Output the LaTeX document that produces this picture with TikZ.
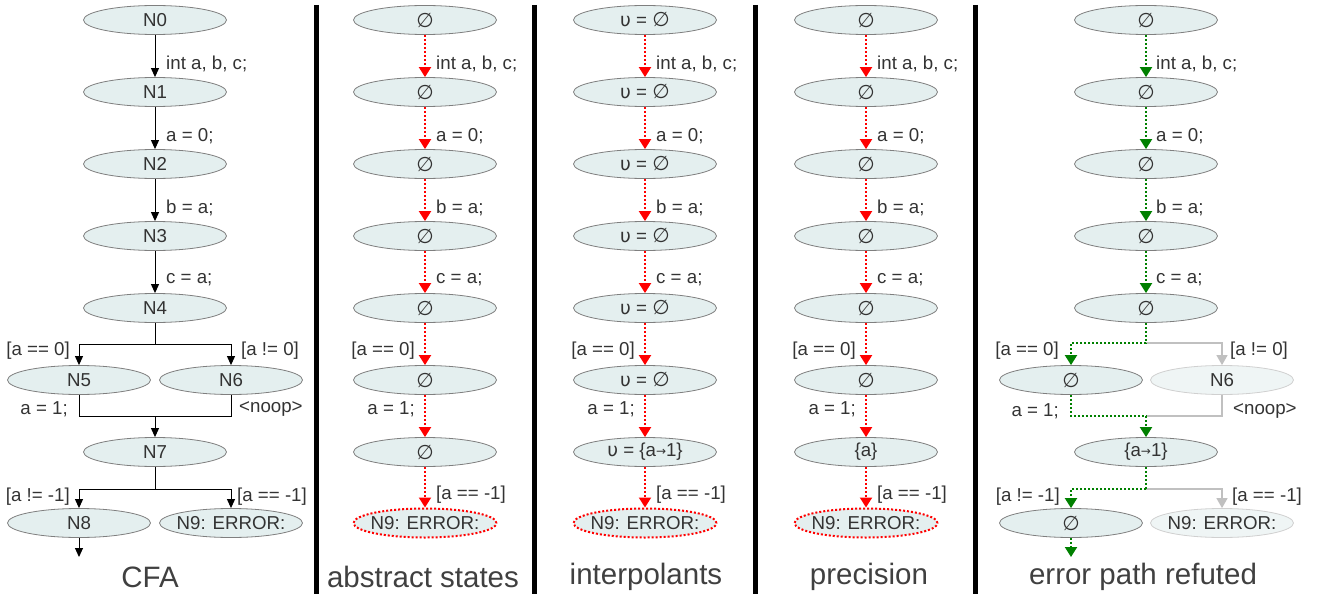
\documentclass[tikz,border=0pt]{standalone}
\usepackage{fontspec}
\setmainfont{Liberation Sans}
\newfontfamily\symf{DejaVu Sans}
\usetikzlibrary{arrows.meta,shapes.geometric}
\definecolor{nfill}{HTML}{E4EFEF}
\definecolor{nline}{HTML}{7F7F7F}
\definecolor{txt}{HTML}{333333}
\definecolor{ttl}{HTML}{404040}
\definecolor{grn}{HTML}{008000}
\definecolor{fadefill}{HTML}{EFF5F5}
\definecolor{fadeline}{HTML}{D0D0D0}
\definecolor{fadeedge}{HTML}{C0C0C0}
\newcommand{\emp}{{\symf\fontsize{20}{20}\selectfont ∅}}
\newcommand{\ups}{{\symf υ}}
\newcommand{\too}{\raisebox{1.5pt}{\symf\fontsize{12}{12}\selectfont →}}
\begin{document}
\begin{tikzpicture}[x=1pt,y=-1pt,
 st/.style={ellipse, draw=nline, line width=0.8pt, fill=nfill, minimum width=143pt, minimum height=29pt, inner xsep=-9pt, inner ysep=0pt, text=txt, font=\fontsize{18.7}{20}\selectfont},
 errst/.style={st, draw=red, line width=2pt, dash pattern=on 2pt off 2pt},
 fadest/.style={st, draw=fadeline, fill=fadefill},
 lbl/.style={text=txt, font=\fontsize{18.7}{20}\selectfont, inner sep=0pt},
 ttlst/.style={text=ttl, font=\fontsize{29.5}{31}\selectfont, inner sep=0pt},
 cfae/.style={black, line width=1pt, -{Triangle[width=8pt,length=9pt]}},
 cfal/.style={black, line width=1pt},
 rde/.style={red, line width=2pt, dash pattern=on 2pt off 2pt, -{Triangle[width=12pt,length=10pt]}},
 gre/.style={grn, line width=2pt, dash pattern=on 2pt off 2pt, -{Triangle[width=12pt,length=10pt]}},
 grl/.style={grn, line width=2pt, dash pattern=on 2pt off 2pt},
 gye/.style={fadeedge, line width=1.5pt, -{Triangle[width=11pt,length=10pt]}},
 gyl/.style={fadeedge, line width=1.5pt},
 sep/.style={black, line width=5pt}
]
\useasboundingbox (0,0) rectangle (1323,594);

% separators
\draw[sep] (316.5,5) -- (316.5,594);
\draw[sep] (534.5,5) -- (534.5,594);
\draw[sep] (755.5,5) -- (755.5,594);
\draw[sep] (975.5,5) -- (975.5,594);

% ---------- CFA ----------
\node[st] (c0) at (155,20) {N0};
\node[st] (c1) at (155,92) {N1};
\node[st] (c2) at (155,164) {N2};
\node[st] (c3) at (155,236) {N3};
\node[st] (c4) at (155,308) {N4};
\node[st] (c5) at (79,380) {N5};
\node[st] (c6) at (231,380) {N6};
\node[st] (c7) at (155,452) {N7};
\node[st] (c8) at (79,523) {N8};
\node[st] (c9) at (231,523) {N9: ERROR:};
\draw[cfae] (c0.south) -- (c1.north);
\draw[cfae] (c1.south) -- (c2.north);
\draw[cfae] (c2.south) -- (c3.north);
\draw[cfae] (c3.south) -- (c4.north);
\coordinate (cj1) at (155,344);
\draw[cfal] (c4.south) -- (cj1);
\draw[cfae] (cj1) -| (c5.north);
\draw[cfae] (cj1) -| (c6.north);
\coordinate (cm) at (155,416);
\draw[cfal] (c5.south) |- (cm);
\draw[cfal] (c6.south) |- (cm);
\draw[cfae] (cm) -- (c7.north);
\coordinate (cj2) at (155,489);
\draw[cfal] (c7.south) -- (cj2);
\draw[cfae] (cj2) -| (c8.north);
\draw[cfae] (cj2) -| (c9.north);
\coordinate (cx) at (79,557);
\draw[cfae] (c8.south) -- (cx);
\node[lbl, anchor=west] (cl0) at (166,64) {int a, b, c;};
\node[lbl, anchor=west] (cl1) at (166,136) {a = 0;};
\node[lbl, anchor=west] (cl2) at (166,208) {b = a;};
\node[lbl, anchor=west] (cl3) at (166,280) {c = a;};
\node[lbl, anchor=east] (cl4) at (70,351) {[a == 0]};
\node[lbl, anchor=west] (cl5) at (241,351) {[a != 0]};
\node[lbl, anchor=east] (cl6) at (68,409) {a = 1;};
\node[lbl, anchor=west] (cl7) at (239,409) {<noop>};
\node[lbl, anchor=east] (cl8) at (70,497) {[a != -1]};
\node[lbl, anchor=west] (cl9) at (237,497) {[a == -1]};
\node[ttlst] (t1) at (150,577) {CFA};

% ---------- abstract states ----------
\node[st] (a0) at (425,20) {\emp};
\node[st] (a1) at (425,92) {\emp};
\node[st] (a2) at (425,164) {\emp};
\node[st] (a3) at (425,236) {\emp};
\node[st] (a4) at (425,308) {\emp};
\node[st] (a5) at (425,380) {\emp};
\node[st] (a6) at (425,452) {\emp};
\node[errst] (a7) at (425,523) {N9: ERROR:};
\foreach \i/\j in {0/1,1/2,2/3,3/4,4/5,5/6,6/7}{\draw[rde] (a\i.south) -- (a\j.north);}
\node[lbl, anchor=west] (al0) at (436,64) {int a, b, c;};
\node[lbl, anchor=west] (al1) at (436,136) {a = 0;};
\node[lbl, anchor=west] (al2) at (436,208) {b = a;};
\node[lbl, anchor=west] (al3) at (436,280) {c = a;};
\node[lbl, anchor=east] (al4) at (415,351) {[a == 0]};
\node[lbl, anchor=east] (al5) at (415,409) {a = 1;};
\node[lbl, anchor=west] (al6) at (436,495) {[a == -1]};
\node[ttlst] (t2) at (423,577) {abstract states};

% ---------- interpolants ----------
\node[st] (i0) at (645,20) {\ups{} = \emp};
\node[st] (i1) at (645,92) {\ups{} = \emp};
\node[st] (i2) at (645,164) {\ups{} = \emp};
\node[st] (i3) at (645,236) {\ups{} = \emp};
\node[st] (i4) at (645,308) {\ups{} = \emp};
\node[st] (i5) at (645,380) {\ups{} = \emp};
\node[st] (i6) at (645,452) {\ups{} = \{a\too 1\}};
\node[errst] (i7) at (645,523) {N9: ERROR:};
\foreach \i/\j in {0/1,1/2,2/3,3/4,4/5,5/6,6/7}{\draw[rde] (i\i.south) -- (i\j.north);}
\node[lbl, anchor=west] (il0) at (656,64) {int a, b, c;};
\node[lbl, anchor=west] (il1) at (656,136) {a = 0;};
\node[lbl, anchor=west] (il2) at (656,208) {b = a;};
\node[lbl, anchor=west] (il3) at (656,280) {c = a;};
\node[lbl, anchor=east] (il4) at (635,351) {[a == 0]};
\node[lbl, anchor=east] (il5) at (635,409) {a = 1;};
\node[lbl, anchor=west] (il6) at (656,495) {[a == -1]};
\node[ttlst] (t3) at (646,577) {interpolants};

% ---------- precision ----------
\node[st] (p0) at (866,20) {\emp};
\node[st] (p1) at (866,92) {\emp};
\node[st] (p2) at (866,164) {\emp};
\node[st] (p3) at (866,236) {\emp};
\node[st] (p4) at (866,308) {\emp};
\node[st] (p5) at (866,380) {\emp};
\node[st] (p6) at (866,452) {\{a\}};
\node[errst] (p7) at (866,523) {N9: ERROR:};
\foreach \i/\j in {0/1,1/2,2/3,3/4,4/5,5/6,6/7}{\draw[rde] (p\i.south) -- (p\j.north);}
\node[lbl, anchor=west] (pl0) at (877,64) {int a, b, c;};
\node[lbl, anchor=west] (pl1) at (877,136) {a = 0;};
\node[lbl, anchor=west] (pl2) at (877,208) {b = a;};
\node[lbl, anchor=west] (pl3) at (877,280) {c = a;};
\node[lbl, anchor=east] (pl4) at (856,351) {[a == 0]};
\node[lbl, anchor=east] (pl5) at (856,409) {a = 1;};
\node[lbl, anchor=west] (pl6) at (877,495) {[a == -1]};
\node[ttlst] (t4) at (869,577) {precision};

% ---------- error path refuted ----------
\node[st] (e0) at (1146,20) {\emp};
\node[st] (e1) at (1146,92) {\emp};
\node[st] (e2) at (1146,164) {\emp};
\node[st] (e3) at (1146,236) {\emp};
\node[st] (e4) at (1146,308) {\emp};
\node[st] (e5) at (1071,380) {\emp};
\node[fadest] (e6) at (1222,380) {N6};
\node[st] (e7) at (1146,452) {\{a\too 1\}};
\node[st] (e8) at (1071,523) {\emp};
\node[fadest] (e9) at (1222,523) {N9: ERROR:};
\foreach \i/\j in {0/1,1/2,2/3,3/4}{\draw[gre] (e\i.south) -- (e\j.north);}
\coordinate (ej1) at (1146,343);
\draw[gye] (ej1) -| (e6.north);
\draw[grl] (e4.south) -- (ej1);
\draw[gre] (ej1) -| (e5.north);
\coordinate (em) at (1146,416);
\draw[gyl] (e6.south) |- (em);
\draw[grl] (e5.south) |- (em);
\draw[gre] (em) -- (e7.north);
\coordinate (ej2) at (1146,489);
\draw[gye] (ej2) -| (e9.north);
\draw[grl] (e7.south) -- (ej2);
\draw[gre] (ej2) -| (e8.north);
\coordinate (ex) at (1071,557);
\draw[gre] (e8.south) -- (ex);
\node[lbl, anchor=west] (el0) at (1156,64) {int a, b, c;};
\node[lbl, anchor=west] (el1) at (1156,136) {a = 0;};
\node[lbl, anchor=west] (el2) at (1156,208) {b = a;};
\node[lbl, anchor=west] (el3) at (1156,280) {c = a;};
\node[lbl, anchor=east] (el4) at (1059,351) {[a == 0]};
\node[lbl, anchor=west] (el5) at (1230,351) {[a != 0]};
\node[lbl, anchor=east] (el6) at (1059,411) {a = 1;};
\node[lbl, anchor=west] (el7) at (1233,411) {<noop>};
\node[lbl, anchor=east] (el8) at (1060,497) {[a != -1]};
\node[lbl, anchor=west] (el9) at (1232,497) {[a == -1]};
\node[ttlst] (t5) at (1143,577) {error path refuted};
\end{tikzpicture}
\end{document}
